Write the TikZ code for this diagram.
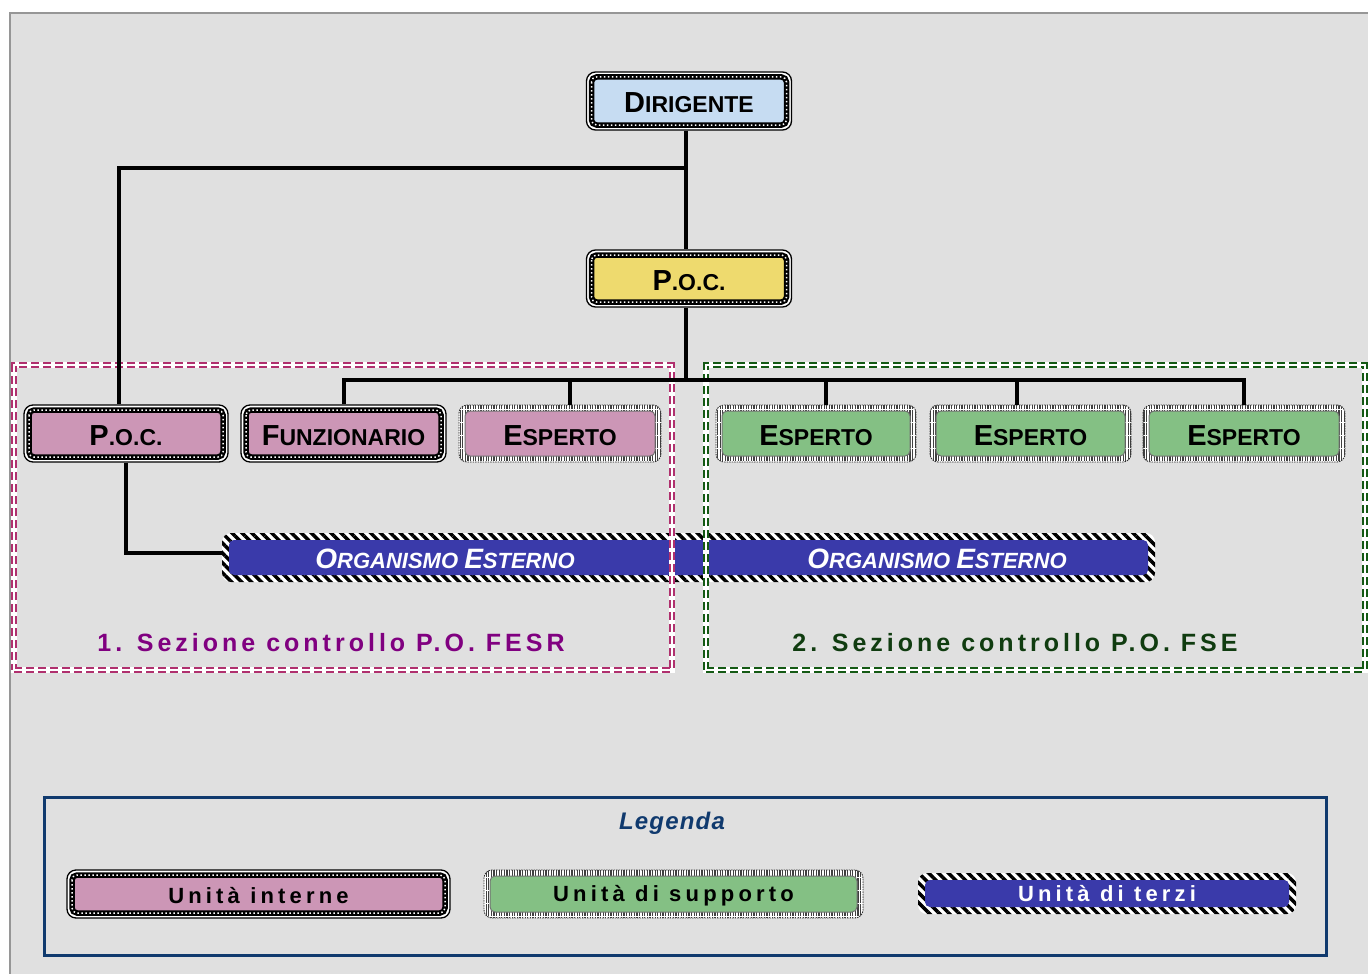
\documentclass[tikz,border=0pt]{standalone}
\usepackage{fontspec}
\setmainfont{Liberation Sans}
\usetikzlibrary{patterns.meta}
\definecolor{bggray}{RGB}{224,224,224}
\definecolor{edgegray}{RGB}{150,150,150}
\definecolor{dirblue}{RGB}{198,220,242}
\definecolor{pocyellow}{RGB}{238,218,110}
\definecolor{pinkf}{RGB}{204,150,182}
\definecolor{greenf}{RGB}{132,192,132}
\definecolor{bluef}{RGB}{58,58,170}
\definecolor{pinkline}{RGB}{176,48,110}
\definecolor{greenline}{RGB}{20,90,20}
\definecolor{purpletext}{RGB}{128,0,128}
\definecolor{greentext}{RGB}{16,60,16}
\definecolor{legblue}{RGB}{16,58,110}
\newcommand\capsA[2]{\raisebox{-2pt}[\height][0pt]{{\fontsize{29}{32}\selectfont #1}{\fontsize{23}{26}\selectfont #2}}}
\newcommand\capsB[2]{{\fontsize{28}{30}\selectfont #1}{\fontsize{22}{24}\selectfont #2}}
\tikzset{
  conn/.style={draw=black, line width=4pt},
  dotbox/.style={rectangle, rounded corners=9pt, draw=black, line width=1.3pt, fill=white,
    inner sep=0pt, font=\bfseries, text=black,
    path picture={
      \draw[black, solid, line width=5.5pt, rounded corners=5pt, fill=#1]
        ([shift={(5pt,-5pt)}]path picture bounding box.north west) rectangle
        ([shift={(-5pt,5pt)}]path picture bounding box.south east);
      \draw[white, line width=1.5pt, dash pattern=on 1.5pt off 2.5pt, rounded corners=5pt]
        ([shift={(5pt,-5pt)}]path picture bounding box.north west) rectangle
        ([shift={(-5pt,5pt)}]path picture bounding box.south east);
    }},
  hatchbox/.style={rectangle, rounded corners=8pt, draw=black!80, line width=0.9pt,
    dash pattern=on 1.5pt off 1pt, fill=white, inner sep=0pt, font=\bfseries, text=black,
    path picture={
      \fill[pattern={Lines[angle=90,distance=2.6pt,line width=1.1pt]}, pattern color=black!75]
        (path picture bounding box.north west) rectangle (path picture bounding box.south east);
      \draw[black!55, solid, line width=1pt, fill=#1, rounded corners=5pt]
        ([shift={(6pt,-6pt)}]path picture bounding box.north west) rectangle
        ([shift={(-6pt,6pt)}]path picture bounding box.south east);
    }},
  stripebox/.style={rectangle, rounded corners=9pt, fill=white, inner sep=0pt,
    font=\bfseries, text=white,
    path picture={
      \fill[pattern={Lines[angle=-45,distance=7pt,line width=3.5pt]}, pattern color=black]
        (path picture bounding box.north west) rectangle (path picture bounding box.south east);
      \fill[#1, rounded corners=5pt]
        ([shift={(7pt,-7pt)}]path picture bounding box.north west) rectangle
        ([shift={(-7pt,7pt)}]path picture bounding box.south east);
    }},
  sect/.style={rectangle, inner sep=0pt, draw=#1, line width=6pt, dash pattern=on 8pt off 4pt,
    preaction={draw=white, line width=6pt, solid},
    postaction={draw=white, line width=1.2pt, solid}},
  sectlabel/.style={font=\fontsize{25}{28}\selectfont\bfseries\addfontfeature{LetterSpace=16}},
  leglabel/.style={font=\fontsize{22}{26}\selectfont\bfseries\addfontfeature{LetterSpace=19}},
  orglabel/.style={font=\fontsize{22}{24}\selectfont\bfseries\itshape, text=white},
}
\begin{document}
\begin{tikzpicture}[x=1pt,y=-1pt]
\useasboundingbox (0,0) rectangle (1368,974);
\fill[white] (0,0) rectangle (1368,974);
\fill[bggray] (9,12) rectangle (1368,974);
\draw[edgegray, line width=2.5pt] (10.2,974) -- (10.2,13.2) -- (1368,13.2);

% organismo esterno bar
\node[stripebox=bluef, minimum width=933pt, minimum height=49pt] (org) at (688.5,557.5) {};
\node[orglabel] (orgA) at (445,559) {\capsB{O}{RGANISMO} \capsB{E}{STERNO}};
\node[orglabel] (orgB) at (937,559) {\capsB{O}{RGANISMO} \capsB{E}{STERNO}};

% sections
\node[sect=pinkline, minimum width=658pt, minimum height=305pt] (secA) at (343,517.5) {};
\node[sect=greenline, minimum width=659pt, minimum height=305pt] (secB) at (1035.5,517.5) {};
\node[sectlabel, text=purpletext] (labA) at (331,643) {1. Sezione controllo P.O. FESR};
\node[sectlabel, text=greentext] (labB) at (1015,643) {2. Sezione controllo P.O. FSE};

% boxes
\node[dotbox=dirblue, minimum width=205pt, minimum height=58pt] (dir) at (689,101) {\capsA{D}{IRIGENTE}};
\node[dotbox=pocyellow, minimum width=205pt, minimum height=57pt] (poc) at (689,278.5) {\capsA{P}{.O.C.}};
\node[dotbox=pinkf, minimum width=204pt, minimum height=57pt] (pocL) at (126,433.5) {\capsA{P}{.O.C.}};
\node[dotbox=pinkf, minimum width=205pt, minimum height=57pt] (funz) at (343.5,433.5) {\capsA{F}{UNZIONARIO}};
\node[hatchbox=pinkf, minimum width=202pt, minimum height=57pt] (espP) at (560,433.5) {\capsA{E}{SPERTO}};
\node[hatchbox=greenf, minimum width=200pt, minimum height=57pt] (g1) at (816,433.5) {\capsA{E}{SPERTO}};
\node[hatchbox=greenf, minimum width=201pt, minimum height=57pt] (g2) at (1030.5,433.5) {\capsA{E}{SPERTO}};
\node[hatchbox=greenf, minimum width=202pt, minimum height=57pt] (g3) at (1244,433.5) {\capsA{E}{SPERTO}};

% connectors
\coordinate (j1) at (686,168);
\coordinate (bus) at (686,380);
\draw[conn] ([xshift=-3pt]dir.south) -- ([xshift=-3pt]poc.north);
\draw[conn] (j1) -| ([xshift=-7pt]pocL.north);
\draw[conn] ([xshift=-3pt]poc.south) -- (bus);
\draw[conn] (funz.north) |- (bus) -| (g3.north);
\draw[conn] ([xshift=10pt]espP.north) -- ([xshift=10pt]espP.north |- bus);
\draw[conn] ([xshift=10pt]g1.north) -- ([xshift=10pt]g1.north |- bus);
\draw[conn] ([xshift=-14pt]g2.north) -- ([xshift=-14pt]g2.north |- bus);
\draw[conn] (pocL.south) |- ([yshift=5pt]org.west);

% legend
\node[rectangle, draw=legblue, line width=3pt, minimum width=1282pt, minimum height=158pt, inner sep=0pt] (legend) at (685,876) {};
\node[font=\fontsize{24}{28}\selectfont\bfseries\itshape\addfontfeature{LetterSpace=5}, text=legblue] (legT) at (672,823) {Legenda};
\node[dotbox=pinkf, minimum width=383pt, minimum height=48pt] (leg1) at (258.5,894) {};
\node[leglabel, text=black] at ([yshift=-2pt]leg1.center) {Unità interne};
\node[hatchbox=greenf, minimum width=379pt, minimum height=48pt] (leg2) at (673.5,894) {};
\node[leglabel, text=black] at ([yshift=-2pt]leg2.center) {Unità di supporto};
\node[stripebox=bluef, minimum width=378pt, minimum height=41pt] (leg3) at (1107,893.5) {};
\node[leglabel, text=white] at (leg3) {Unità di terzi};
\end{tikzpicture}
\end{document}
